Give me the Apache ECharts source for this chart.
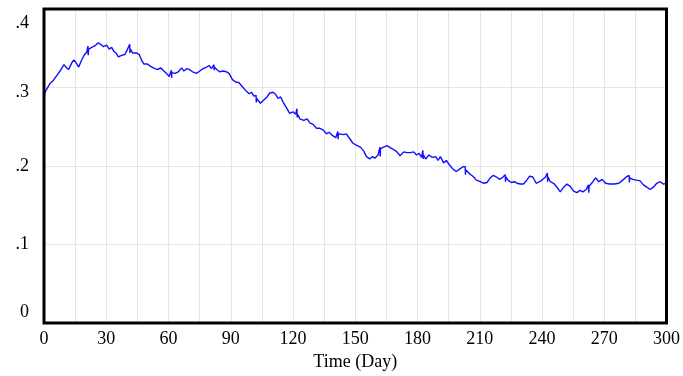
<!DOCTYPE html>
<html>
<head>
<meta charset="utf-8">
<script src="https://cdn.jsdelivr.net/npm/echarts@6/dist/echarts.min.js"></script>
<style>
html,body{margin:0;padding:0;background:#fff;}
#chart{width:683px;height:376px;}
</style>
</head>
<body>
<div id="chart"></div>
<script>
// Time (day) and value pairs
const points = [
[0,.292],[0.1,.280],[0.3,.293],[1.3,.298],[2.9,.305],[4.5,.309],[5.3,.308],[6.4,.316],[8,.322],[9.6,.329],
[10.9,.325],[11.9,.323],[13.5,.332],[14.4,.335],[15.4,.332],[16.7,.326],[18,.334],[19.3,.341],[20.6,.345],
[21.2,.353],[21.3,.341],[21.5,.349],[22.1,.349],[23.7,.352],[25,.354],[26.1,.357],[27.3,.355],[28.6,.352],
[30.2,.354],[31.4,.349],[32.6,.351],[33.7,.346],[34.7,.344],[35.8,.339],[37.4,.341],[39,.342],[40.1,.348],
[41.3,.355],[41.4,.344],[41.6,.349],[42.7,.344],[44.6,.344],[45.9,.342],[47,.335],[48.1,.330],[49.7,.330],
[51.4,.327],[52.3,.328],[53.4,.324],[55,.323],[56.2,.325],[57.8,.321],[59.4,.317],[60.3,.314],[61.4,.322],
[61.5,.312],[61.6,.319],[63.1,.318],[64.7,.320],[66.3,.325],[67.4,.321],[68.7,.324],[70,.323],[71.6,.320],
[73.5,.318],[75.1,.321],[76.7,.324],[78.3,.326],[79.6,.328],[80.7,.324],[81.9,.329],[82,.322],[82.2,.326],
[83.2,.323],[84.7,.320],[86.3,.321],[87.9,.320],[89.2,.318],[90.8,.310],[92.4,.307],[94,.306],[95.6,.301],
[97.3,.296],[98.9,.292],[100,.294],[101.1,.289],[102.2,.290],[102.3,.281],[102.5,.286],[104.3,.280],
[105.9,.284],[107.5,.288],[108.8,.293],[110.4,.294],[111.7,.291],[112.8,.286],[114,.288],[115.5,.280],
[117.1,.273],[118.4,.267],[120,.269],[121.3,.266],[121.9,.273],[122,.262],[122.2,.266],[123.3,.260],
[125.2,.258],[126.8,.260],[128.1,.255],[129.7,.253],[131.3,.248],[132.9,.248],[134.5,.246],[136.1,.241],
[137.4,.243],[139,.239],[140.6,.236],[141.6,.244],[141.7,.234],[141.9,.241],[142.8,.243],[144.4,.240],
[145.7,.241],[147.3,.235],[148.9,.229],[150.9,.226],[152.5,.224],[154.1,.219],[155.4,.212],[157,.209],
[158.3,.212],[159.4,.210],[161,.214],[161.9,.224],[162,.212],[162.2,.222],[163.7,.224],[165.3,.226],
[167,.223],[168.5,.221],[170.1,.218],[171.6,.213],[173.4,.218],[175,.217],[176.6,.217],[178.2,.218],
[179.5,.214],[180.8,.216],[181.9,.211],[182.6,.220],[182.7,.209],[182.9,.214],[183.9,.209],[185.5,.214],
[187.2,.211],[188.8,.212],[189.9,.207],[191,.212],[192.6,.204],[193.9,.207],[195.5,.201],[197.1,.196],
[198.7,.193],[200.3,.196],[201.9,.199],[203.0,.199],[203.1,.189],[203.3,.195],[205.1,.190],[206.7,.187],
[208.4,.182],[210.3,.180],[211.9,.178],[213.5,.179],[214.8,.184],[216.4,.188],[218,.186],[219.6,.183],
[221.2,.186],[222.3,.189],[222.4,.180],[222.6,.186],[223.6,.182],[225.2,.179],[226.8,.180],[227.9,.178],
[229.5,.177],[231.1,.177],[232.7,.182],[234,.187],[235.6,.186],[237.2,.178],[238.8,.180],[240.4,.183],
[241.7,.186],[242.6,.191],[242.7,.180],[242.9,.186],[244,.180],[245.6,.178],[247.2,.173],[248.8,.167],
[250.4,.173],[252,.177],[253.6,.174],[255.2,.168],[256.8,.166],[258.4,.169],[259.7,.167],[261.3,.170],
[262.4,.176],[262.5,.166],[262.7,.174],[264.5,.180],[265.8,.185],[267.4,.180],[269,.183],[270.6,.178],
[272.5,.177],[274.9,.177],[277,.178],[278.9,.182],[280.6,.186],[282,.188],[282.1,.179],[282.3,.185],
[283.8,.183],[285.4,.182],[287.3,.181],[288.9,.176],[290.5,.173],[292.1,.170],[293.7,.173],[295.3,.178],
[296.9,.180],[298.5,.177],[300,.178]
];
const xTicks = [0,30,60,90,120,150,180,210,240,270,300];
const yTickValues = [0,0.1,0.2,0.3,0.4];
const yTickLabels = ['0','.1','.2','.3','.4'];
const xTitle = 'Time (Day)';

const FONT = '"Liberation Serif", "Times New Roman", serif';
const chart = echarts.init(document.getElementById('chart'), null, {renderer:'canvas'});
const yStyle = ['bot','mid','mid','top1','top2'];
chart.setOption({
  animation:false,
  backgroundColor:'#fff',
  grid:{left:44,right:16,top:9,bottom:53,show:true,borderColor:'#000',borderWidth:3,backgroundColor:'transparent',z:5},
  xAxis:{
    type:'value',min:0,max:300,interval:15,
    axisLine:{show:false},axisTick:{show:false},
    splitLine:{show:true,showMinLine:false,showMaxLine:false,lineStyle:{color:'#e6e6e6',width:1}},
    axisLabel:{
      color:'#000',fontFamily:FONT,fontSize:18,margin:7,
      formatter:function(v){return xTicks.indexOf(Math.round(v))>=0?String(Math.round(v)):'';}
    },
    name:xTitle,nameLocation:'middle',nameGap:29,
    nameTextStyle:{color:'#000',fontFamily:FONT,fontSize:18}
  },
  yAxis:{
    type:'value',min:0,max:0.4,interval:0.1,
    axisLine:{show:false},axisTick:{show:false},
    splitLine:{show:true,showMinLine:false,showMaxLine:false,lineStyle:{color:'#e6e6e6',width:1}},
    axisLabel:{
      color:'#000',fontFamily:FONT,fontSize:18,margin:15,
      formatter:function(v){
        let i=-1;
        yTickValues.forEach(function(t,k){if(Math.abs(t-v)<1e-6)i=k;});
        if(i<0)return '';
        return '{'+yStyle[i]+'|'+yTickLabels[i]+'}';
      },
      rich:{
        bot:{fontFamily:FONT,fontSize:18,color:'#000',padding:[0,0,22,0]},
        mid:{fontFamily:FONT,fontSize:18,color:'#000'},
        top1:{fontFamily:FONT,fontSize:18,color:'#000',padding:[10,0,0,0]},
        top2:{fontFamily:FONT,fontSize:18,color:'#000',padding:[28,0,0,0]}
      }
    }
  },
  series:[{
    type:'line',data:points,showSymbol:false,symbol:'none',
    lineStyle:{color:'#1010ff',width:1.4},
    z:1
  }]
});
</script>
</body>
</html>
